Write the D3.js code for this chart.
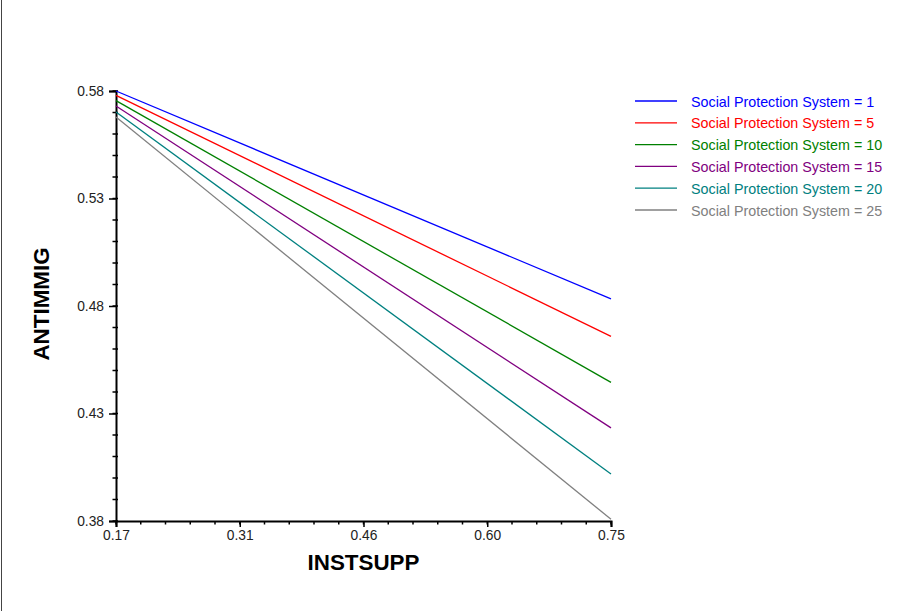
<!DOCTYPE html>
<html>
<head>
<meta charset="utf-8">
<script src="https://cdn.jsdelivr.net/npm/d3@7"></script>
<style>
  body { margin: 0; background: #fff; }
  svg { display: block; font-family: "Liberation Sans", Arial, sans-serif; }
</style>
</head>
<body>
<div id="chart"></div>
<script>
// Chart values
const xEnds = [0.17, 0.75];
const seriesNames = ['Social Protection System = 1', 'Social Protection System = 5', 'Social Protection System = 10',
    'Social Protection System = 15', 'Social Protection System = 20', 'Social Protection System = 25'];
const startValues = [0.580, 0.578, 0.5755, 0.573, 0.5702, 0.5679];
const endValues = [0.4833, 0.4659, 0.4445, 0.4233, 0.4019, 0.3808];
const colors = ['#0000ff', '#ff0000', '#008000', '#800080', '#008080', '#808080'];
const xTickLabels = ['0.17', '0.31', '0.46', '0.60', '0.75'];
const yTickLabels = ['0.38', '0.43', '0.48', '0.53', '0.58'];

const W = 911, H = 611;
const margin = { top: 91, right: 300, bottom: 90, left: 116 };

const svg = d3.select('#chart')
    .append('svg')
    .attr('width', W)
    .attr('height', H);

// Left frame edge
svg.append('line')
    .attr('x1', 1.5).attr('x2', 1.5)
    .attr('y1', 0).attr('y2', H)
    .attr('stroke', '#444')
    .attr('stroke-width', 1);

const x = d3.scaleLinear()
    .domain([0.17, 0.75])
    .range([margin.left, W - margin.right]);

const y = d3.scaleLinear()
    .domain([0.38, 0.58])
    .range([H - margin.bottom, margin.top]);

const xMajor = d3.range(5).map(i => 0.17 + i * 0.145);
const xMinor = d3.range(21).map(i => 0.17 + i * 0.029);
const yMajor = d3.range(5).map(i => 0.38 + i * 0.05);
const yMinor = d3.range(21).map(i => 0.38 + i * 0.01);

// Minor ticks
svg.append('g')
    .selectAll('line')
    .data(xMinor)
    .enter()
    .append('line')
    .attr('x1', d => x(d)).attr('x2', d => x(d))
    .attr('y1', y(0.38)).attr('y2', y(0.38) + 3.5)
    .attr('stroke', '#000')
    .attr('stroke-width', 1.5);

svg.append('g')
    .selectAll('line')
    .data(yMinor)
    .enter()
    .append('line')
    .attr('x1', x(0.17) - 3.5).attr('x2', x(0.17) + 2)
    .attr('y1', d => y(d)).attr('y2', d => y(d))
    .attr('stroke', '#000')
    .attr('stroke-width', 1.5);

// X axis
const xAxis = d3.axisBottom(x)
    .tickValues(xMajor)
    .tickFormat((d, i) => xTickLabels[i])
    .tickSize(6)
    .tickPadding(3);

const xg = svg.append('g')
    .attr('transform', `translate(0, ${y(0.38)})`)
    .call(xAxis);

// Y axis
const yAxis = d3.axisLeft(y)
    .tickValues(yMajor)
    .tickFormat((d, i) => yTickLabels[i])
    .tickSize(7)
    .tickPadding(5);

const yg = svg.append('g')
    .attr('transform', `translate(${x(0.17)}, 0)`)
    .call(yAxis);

[xg, yg].forEach(g => {
    g.select('.domain').attr('stroke', '#000').attr('stroke-width', 2);
    g.selectAll('.tick line').attr('stroke', '#000').attr('stroke-width', 1.5);
    g.selectAll('.tick text')
        .attr('fill', '#222')
        .style('font-size', '13.8px')
        .style('font-family', '"Liberation Sans", Arial, sans-serif');
});

// Series lines
const line = d3.line()
    .x(d => x(d.x))
    .y(d => y(d.y));

seriesNames.forEach((name, i) => {
    const pts = [
        { x: xEnds[0], y: startValues[i] },
        { x: xEnds[1], y: endValues[i] }
    ];
    svg.append('path')
        .datum(pts)
        .attr('d', line)
        .attr('fill', 'none')
        .attr('stroke', colors[i])
        .attr('stroke-width', 1.3);
});

// Legend
const legend = svg.append('g')
    .attr('transform', 'translate(635, 101)');

seriesNames.forEach((name, i) => {
    const row = legend.append('g')
        .attr('transform', `translate(0, ${i * 21.8})`);
    row.append('line')
        .attr('x1', 0).attr('x2', 42)
        .attr('y1', 0).attr('y2', 0)
        .attr('stroke', colors[i])
        .attr('stroke-width', 1.3);
    row.append('text')
        .attr('x', 56)
        .attr('y', 5.5)
        .attr('fill', colors[i])
        .style('font-size', '14.3px')
        .text(name);
});

// Axis titles
svg.append('text')
    .attr('x', (x(0.17) + x(0.75)) / 2)
    .attr('y', 570)
    .attr('text-anchor', 'middle')
    .style('font-size', '22.4px')
    .style('font-weight', 'bold')
    .text('INSTSUPP');

svg.append('text')
    .attr('transform', 'translate(49, 304) rotate(-90)')
    .attr('text-anchor', 'middle')
    .style('font-size', '22.4px')
    .style('font-weight', 'bold')
    .text('ANTIMMIG');
</script>
</body>
</html>
